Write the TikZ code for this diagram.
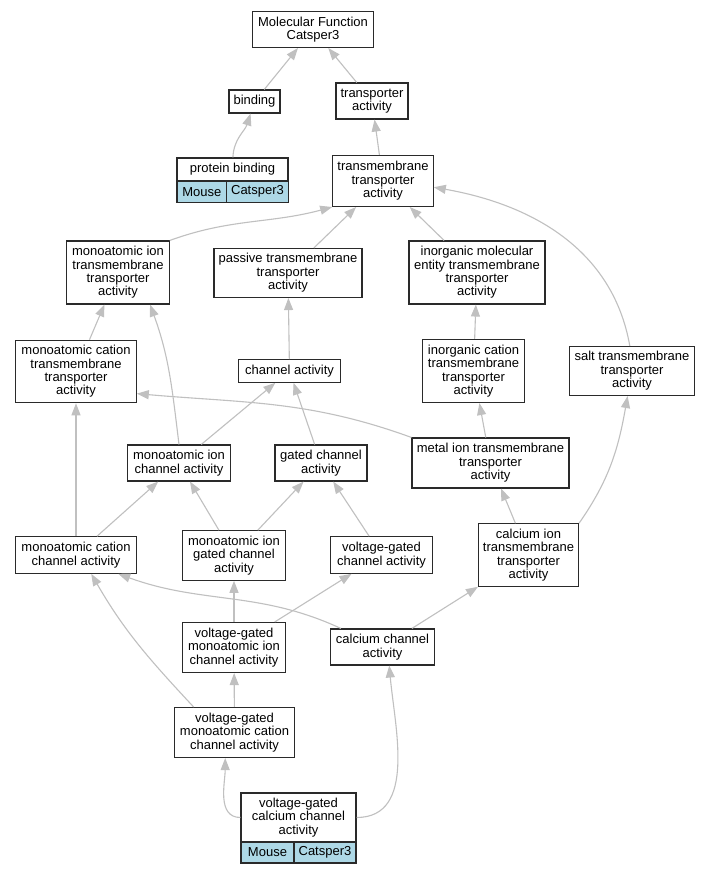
\documentclass[tikz,border=0pt]{standalone}
\usepackage{fontspec}
\setmainfont{Liberation Sans}
\usetikzlibrary{arrows.meta}
\definecolor{edgegray}{HTML}{C0C0C0}
\definecolor{nodeline}{HTML}{2A2A2A}
\definecolor{recblue}{HTML}{ADD8E6}
\begin{document}
\begin{tikzpicture}[x=1pt,y=-1pt,
 gvbox/.style={draw=nodeline, line width=1.1pt, fill=white, inner sep=0pt, align=center, font=\fontsize{13}{13.4}\selectfont},
 gvcell/.style={gvbox, fill=recblue},
 gvedge/.style={draw=edgegray, line width=1.1pt, -{Triangle[length=12pt,width=9pt]}},
]
\useasboundingbox (0,0) rectangle (711,875);
\fill[white] (0,0) rectangle (711,875);

\node[gvbox, minimum width=121pt, minimum height=36pt] (mf) at (313,29.5) {Molecular Function\\Catsper3};
\node[gvbox, minimum width=51pt, minimum height=23pt] (bind) at (254.5,101.5) {binding};
\node[gvbox, minimum width=72pt, minimum height=36pt] (ta) at (372,101) {transporter\\activity};
\node[gvbox, minimum width=111pt, minimum height=23pt] (pb) at (232.5,169.5) {protein binding};
\node[gvcell, minimum width=49.7pt, minimum height=21.5pt] (pbm) at (201.85,191.75) {Mouse};
\node[gvcell, minimum width=61.5pt, minimum height=21.5pt] (pbc) at (257.5,191.75) {Catsper3};
\node[gvbox, minimum width=100.5pt, minimum height=51pt] (tm) at (383,181) {transmembrane\\transporter\\activity};
\node[gvbox, minimum width=102.5pt, minimum height=63pt] (mitm) at (118,272.5) {monoatomic ion\\transmembrane\\transporter\\activity};
\node[gvbox, minimum width=148pt, minimum height=49pt] (ptm) at (288,273) {passive transmembrane\\transporter\\activity};
\node[gvbox, minimum width=136pt, minimum height=63pt] (imtm) at (477,272.5) {inorganic molecular\\entity transmembrane\\transporter\\activity};
\node[gvbox, minimum width=120.5pt, minimum height=62.5pt] (mctm) at (76,371.5) {monoatomic cation\\transmembrane\\transporter\\activity};
\node[gvbox, minimum width=101.5pt, minimum height=22.5pt] (ca) at (289.5,371) {channel activity};
\node[gvbox, minimum width=101.5pt, minimum height=63pt] (ictm) at (473.5,371) {inorganic cation\\transmembrane\\transporter\\activity};
\node[gvbox, minimum width=125.5pt, minimum height=49pt] (stm) at (632,371) {salt transmembrane\\transporter\\activity};
\node[gvbox, minimum width=157pt, minimum height=50pt] (metal) at (490.5,463) {metal ion transmembrane\\transporter\\activity};
\node[gvbox, minimum width=103pt, minimum height=36pt] (mica) at (179,463) {monoatomic ion\\channel activity};
\node[gvbox, minimum width=92pt, minimum height=36pt] (gca) at (321,463) {gated channel\\activity};
\node[gvbox, minimum width=120.5pt, minimum height=36.5pt] (mcca) at (76,555) {monoatomic cation\\channel activity};
\node[gvbox, minimum width=102.5pt, minimum height=49.5pt] (migca) at (234,555.5) {monoatomic ion\\gated channel\\activity};
\node[gvbox, minimum width=101.5pt, minimum height=36.5pt] (vgca) at (381.5,555) {voltage-gated\\channel activity};
\node[gvbox, minimum width=100pt, minimum height=62.5pt] (citm) at (528.5,555) {calcium ion\\transmembrane\\transporter\\activity};
\node[gvbox, minimum width=103.5pt, minimum height=50pt] (vgmica) at (234,647.5) {voltage-gated\\monoatomic ion\\channel activity};
\node[gvbox, minimum width=104pt, minimum height=36pt] (cca) at (382.5,647) {calcium channel\\activity};
\node[gvbox, minimum width=120.5pt, minimum height=50pt] (vgmcca) at (234.5,732.5) {voltage-gated\\monoatomic cation\\channel activity};
\node[gvbox, minimum width=115pt, minimum height=49pt] (vgcca) at (298.5,817.5) {voltage-gated\\calcium channel\\activity};
\node[gvcell, minimum width=53pt, minimum height=21pt] (vgm) at (267.5,852.5) {Mouse};
\node[gvcell, minimum width=62pt, minimum height=21pt] (vgc) at (325,852.5) {Catsper3};

\draw[gvedge] (bind) -- (mf);
\draw[gvedge] (ta) -- (mf);
\draw[gvedge] (pb) to[out=88,in=-108] (bind);
\draw[gvedge] (tm) -- (ta);
\draw[gvedge] (mitm.north east) to[out=20,in=195] (tm.south west);
\draw[gvedge] (ptm) -- (tm);
\draw[gvedge] (imtm) -- (tm);
\draw[gvedge] (stm.95) to[out=100,in=-10] (tm.-7);
\draw[gvedge] (mctm) -- (mitm);
\draw[gvedge] (ca) -- (ptm);
\draw[gvedge] (ictm) -- (imtm);
\draw[gvedge] (mica.north) to[out=97,in=-70] (mitm.-45);
\draw[gvedge] (mica) -- (ca);
\draw[gvedge] (gca) -- (ca);
\draw[gvedge] (metal.north west) to[out=160,in=-5] (mctm.-20);
\draw[gvedge] (metal) -- (ictm);
\draw[gvedge] (citm) -- (metal);
\draw[gvedge] (citm.north east) to[out=55,in=-100] (stm.-100);
\draw[gvedge] (mcca) -- (mctm);
\draw[gvedge] (mcca) -- (mica);
\draw[gvedge] (migca) -- (mica);
\draw[gvedge] (migca) -- (gca);
\draw[gvedge] (vgca) -- (gca);
\draw[gvedge] (vgmica) -- (migca);
\draw[gvedge] (vgmica) -- (vgca);
\draw[gvedge] (cca.156) to[out=155,in=-20] (mcca.-24);
\draw[gvedge] (cca) -- (citm);
\draw[gvedge] (vgmcca) -- (vgmica);
\draw[gvedge] (vgmcca.148) to[out=133,in=-60] (mcca.-51);
\draw[gvedge] (vgcca.west) to[out=180,in=-90] (vgmcca.-110);
\draw[gvedge] (vgcca.east) to[out=0,in=-85] (cca.-70);
\end{tikzpicture}
\end{document}
